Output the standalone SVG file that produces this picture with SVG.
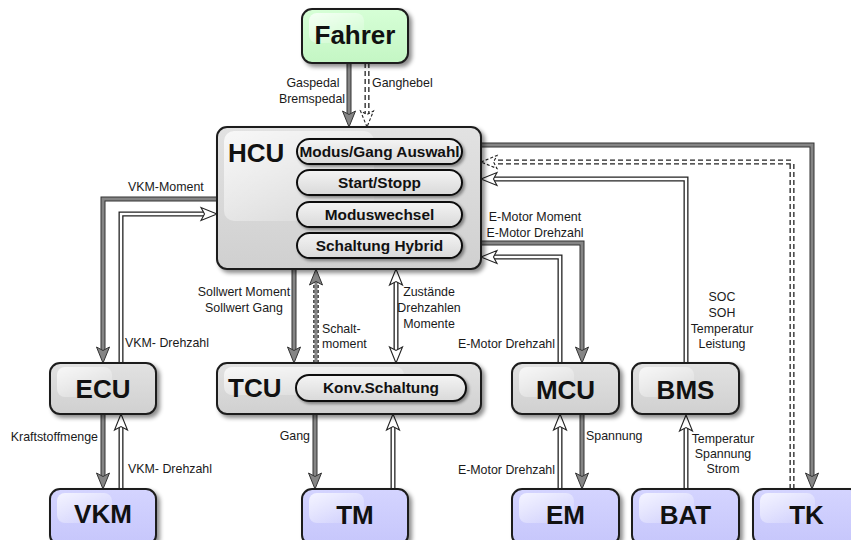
<svg xmlns="http://www.w3.org/2000/svg" xmlns:xlink="http://www.w3.org/1999/xlink" width="851" height="540" viewBox="0 0 851 540">
  <defs>
    <style>
      .lbl { font-family: "Liberation Sans", Arial, sans-serif; font-size: 12.4px; fill: #1a1a1a; }
      .big { font-family: "Liberation Sans", Arial, sans-serif; font-size: 26px; font-weight: bold; fill: #111; }
      .pt  { font-family: "Liberation Sans", Arial, sans-serif; font-size: 15.4px; font-weight: bold; fill: #111; text-anchor: middle; }
      .box { stroke: #1e1e1e; stroke-width: 2; filter: url(#shadow); }
      .pill { fill: url(#gPill); stroke: #111; stroke-width: 2; filter: url(#shadowS); }
      .grey { fill: url(#gGrey); }
      .blue { fill: url(#gBlue); }
      .green { fill: url(#gGreen); }
      .hl { fill: url(#gHl); }
      .g-o { fill: none; stroke: #333; stroke-width: 5; stroke-linejoin: miter; }
      .g-i { fill: none; stroke: #858585; stroke-width: 3; stroke-linejoin: miter; }
      .h-o { fill: none; stroke: #222; stroke-width: 5; stroke-linejoin: miter; }
      .h-i { fill: none; stroke: #fff; stroke-width: 2.4; stroke-linejoin: miter; }
      .hd-o { fill: none; stroke: #222; stroke-width: 5; stroke-dasharray: 5 3; }
      .gd-o { fill: none; stroke: #555; stroke-width: 6; stroke-dasharray: 3 2; }
    </style>
    <linearGradient id="gGrey" x1="0" y1="0" x2="0" y2="1">
      <stop offset="0" stop-color="#e2e2e2"/>
      <stop offset="1" stop-color="#d0d0d0"/>
    </linearGradient>
    <linearGradient id="gBlue" x1="0" y1="0" x2="0" y2="1">
      <stop offset="0" stop-color="#d4d4ff"/>
      <stop offset="1" stop-color="#c6c6fb"/>
    </linearGradient>
    <linearGradient id="gGreen" x1="0" y1="0" x2="0" y2="1">
      <stop offset="0" stop-color="#d6ffd6"/>
      <stop offset="1" stop-color="#c4f6c4"/>
    </linearGradient>
    <linearGradient id="gPill" x1="0" y1="0" x2="0" y2="1">
      <stop offset="0" stop-color="#f4f4f4"/>
      <stop offset="1" stop-color="#d9d9d9"/>
    </linearGradient>
    <linearGradient id="gHl" x1="0" y1="0" x2="1" y2="1">
      <stop offset="0" stop-color="#ffffff" stop-opacity="0.75"/>
      <stop offset="1" stop-color="#ffffff" stop-opacity="0"/>
    </linearGradient>
    <filter id="shadow" x="-10%" y="-10%" width="130%" height="130%">
      <feDropShadow dx="3" dy="3" stdDeviation="2" flood-color="#000" flood-opacity="0.45"/>
    </filter>
    <filter id="shadowS" x="-10%" y="-20%" width="130%" height="150%">
      <feDropShadow dx="2" dy="2" stdDeviation="1.5" flood-color="#000" flood-opacity="0.4"/>
    </filter>
    <!-- arrowheads, drawn pointing down with the tip at the origin -->
    <path id="hg" d="M0,0 L-6.5,-16 L0,-12.5 L6.5,-16 Z" fill="#858585" stroke="#333" stroke-width="1" stroke-linejoin="miter"/>
    <path id="hh" d="M0,0 L-6.5,-16 L0,-12.5 L6.5,-16 Z" fill="#fff" stroke="#222" stroke-width="1.1" stroke-linejoin="miter"/>
    <path id="hd" d="M0,0 L-6.5,-16 L0,-12.5 L6.5,-16 Z" fill="#fff" stroke="#222" stroke-width="1.1" stroke-dasharray="3 2"/>
  </defs>

  <rect width="851" height="540" fill="#fff"/>

  <!-- connectors -->
  <g id="connectors">
    <!-- Fahrer -> HCU -->
    <path class="g-o" d="M349,63 V115"/><path class="g-i" d="M349,63 V115"/>
    <use href="#hg" transform="translate(349,127)"/>
    <path class="hd-o" d="M367,63 V117"/><path class="h-i" d="M367,63 V117"/>
    <use href="#hd" transform="translate(367,127)"/>

    <!-- HCU <-> ECU -->
    <path class="g-o" d="M217,199 H103 V351"/><path class="g-i" d="M217,199 H103 V351"/>
    <use href="#hg" transform="translate(103,363)"/>
    <path class="h-o" d="M121,363 V214 H207"/><path class="h-i" d="M121,363 V214 H207"/>
    <use href="#hh" transform="translate(217,214) rotate(-90)"/>

    <!-- ECU <-> VKM -->
    <path class="g-o" d="M103,414 V477"/><path class="g-i" d="M103,414 V477"/>
    <use href="#hg" transform="translate(103,489)"/>
    <path class="h-o" d="M121,489 V424"/><path class="h-i" d="M121,489 V424"/>
    <use href="#hh" transform="translate(121,414) rotate(180)"/>

    <!-- HCU <-> TCU -->
    <path class="g-o" d="M294,269 V351"/><path class="g-i" d="M294,269 V351"/>
    <use href="#hg" transform="translate(294,363)"/>
    <path class="gd-o" d="M316,363 V281"/><path class="g-i" d="M316,363 V281"/>
    <use href="#hg" transform="translate(316,269) rotate(180)"/>
    <path class="h-o" d="M396,279 V353"/><path class="h-i" d="M396,279 V353"/>
    <use href="#hh" transform="translate(396,269) rotate(180)"/>
    <use href="#hh" transform="translate(396,363)"/>

    <!-- TCU <-> TM -->
    <path class="g-o" d="M315,414 V477"/><path class="g-i" d="M315,414 V477"/>
    <use href="#hg" transform="translate(315,489)"/>
    <path class="h-o" d="M393,489 V424"/><path class="h-i" d="M393,489 V424"/>
    <use href="#hh" transform="translate(393,414) rotate(180)"/>

    <!-- HCU <-> MCU -->
    <path class="g-o" d="M481,243 H582 V351"/><path class="g-i" d="M481,243 H582 V351"/>
    <use href="#hg" transform="translate(582,363)"/>
    <path class="h-o" d="M560,363 V257 H491"/><path class="h-i" d="M560,363 V257 H491"/>
    <use href="#hh" transform="translate(481,257) rotate(90)"/>

    <!-- MCU <-> EM -->
    <path class="g-o" d="M582,414 V477"/><path class="g-i" d="M582,414 V477"/>
    <use href="#hg" transform="translate(582,489)"/>
    <path class="h-o" d="M560,489 V424"/><path class="h-i" d="M560,489 V424"/>
    <use href="#hh" transform="translate(560,414) rotate(180)"/>

    <!-- BMS -> HCU, BAT -> BMS -->
    <path class="h-o" d="M686,363 V179 H491"/><path class="h-i" d="M686,363 V179 H491"/>
    <use href="#hh" transform="translate(481,179) rotate(90)"/>
    <path class="h-o" d="M686,489 V425"/><path class="h-i" d="M686,489 V425"/>
    <use href="#hh" transform="translate(686,415) rotate(180)"/>

    <!-- HCU <-> TK -->
    <path class="g-o" d="M481,145 H812 V477"/><path class="g-i" d="M481,145 H812 V477"/>
    <use href="#hg" transform="translate(812,489)"/>
    <path class="hd-o" d="M792,489 V162 H491"/><path class="h-i" d="M792,489 V162 H491"/>
    <use href="#hd" transform="translate(481,162) rotate(90)"/>
  </g>

  <!-- connector labels -->
  <g id="labels" class="lbl">
    <text x="313" y="87" text-anchor="middle">Gaspedal</text>
    <text x="312" y="103" text-anchor="middle">Bremspedal</text>
    <text x="372" y="87">Ganghebel</text>
    <text x="128" y="191">VKM-Moment</text>
    <text x="125" y="347">VKM- Drehzahl</text>
    <text x="98" y="441" text-anchor="end">Kraftstoffmenge</text>
    <text x="128" y="473">VKM- Drehzahl</text>
    <text x="244" y="296" text-anchor="middle">Sollwert Moment</text>
    <text x="244" y="312" text-anchor="middle">Sollwert Gang</text>
    <text x="322" y="333">Schalt-</text>
    <text x="322" y="348">moment</text>
    <text x="429" y="296" text-anchor="middle">Zustände</text>
    <text x="429" y="312" text-anchor="middle">Drehzahlen</text>
    <text x="429" y="328" text-anchor="middle">Momente</text>
    <text x="535" y="221" text-anchor="middle">E-Motor Moment</text>
    <text x="535" y="237" text-anchor="middle">E-Motor Drehzahl</text>
    <text x="555" y="348" text-anchor="end">E-Motor Drehzahl</text>
    <text x="310" y="440" text-anchor="end">Gang</text>
    <text x="586" y="440">Spannung</text>
    <text x="555" y="474" text-anchor="end">E-Motor Drehzahl</text>
    <text x="722" y="301" text-anchor="middle">SOC</text>
    <text x="722" y="317" text-anchor="middle">SOH</text>
    <text x="722" y="333" text-anchor="middle">Temperatur</text>
    <text x="722" y="348" text-anchor="middle">Leistung</text>
    <text x="723" y="443" text-anchor="middle">Temperatur</text>
    <text x="723" y="458" text-anchor="middle">Spannung</text>
    <text x="723" y="473" text-anchor="middle">Strom</text>
  </g>

  <!-- nodes -->
  <g id="fahrer">
    <rect class="box green" x="302" y="9" width="106" height="54" rx="10"/>
    <rect class="hl" x="309" y="13" width="55" height="30" rx="8"/>
    <text class="big" x="355" y="44" text-anchor="middle">Fahrer</text>
  </g>

  <g id="hcu">
    <rect class="box grey" x="217" y="127" width="264" height="142" rx="10"/>
    <rect class="hl" x="224" y="131" width="150" height="90" rx="10"/>
    <text class="big" x="228" y="162">HCU</text>
    <g id="hcu-modus">
      <rect class="pill" x="297" y="139" width="165" height="25" rx="12.5"/>
      <text class="pt" x="379.5" y="157">Modus/Gang Auswahl</text>
    </g>
    <g id="hcu-start">
      <rect class="pill" x="297" y="170" width="165" height="25" rx="12.5"/>
      <text class="pt" x="379.5" y="188">Start/Stopp</text>
    </g>
    <g id="hcu-moduswechsel">
      <rect class="pill" x="297" y="202" width="165" height="25" rx="12.5"/>
      <text class="pt" x="379.5" y="220">Moduswechsel</text>
    </g>
    <g id="hcu-schaltung">
      <rect class="pill" x="297" y="233" width="165" height="25" rx="12.5"/>
      <text class="pt" x="379.5" y="251">Schaltung Hybrid</text>
    </g>
  </g>

  <g id="ecu">
    <rect class="box grey" x="50" y="363" width="106" height="51" rx="10"/>
    <rect class="hl" x="57" y="367" width="55" height="30" rx="8"/>
    <text class="big" x="103" y="398" text-anchor="middle">ECU</text>
  </g>

  <g id="tcu">
    <rect class="box grey" x="217" y="363" width="264" height="51" rx="10"/>
    <rect class="hl" x="224" y="367" width="180" height="28" rx="8"/>
    <text class="big" x="228" y="397">TCU</text>
    <g id="tcu-konv">
      <rect class="pill" x="296" y="375" width="170" height="26" rx="13"/>
      <text class="pt" x="381" y="393">Konv.Schaltung</text>
    </g>
  </g>

  <g id="mcu">
    <rect class="box grey" x="512" y="363" width="107" height="51" rx="10"/>
    <rect class="hl" x="519" y="367" width="55" height="30" rx="8"/>
    <text class="big" x="565.5" y="399" text-anchor="middle">MCU</text>
  </g>

  <g id="bms">
    <rect class="box grey" x="632" y="363" width="107" height="51" rx="10"/>
    <rect class="hl" x="639" y="367" width="55" height="30" rx="8"/>
    <text class="big" x="685.5" y="399" text-anchor="middle">BMS</text>
  </g>

  <g id="vkm">
    <rect class="box blue" x="50" y="489" width="106" height="56" rx="10"/>
    <rect class="hl" x="57" y="493" width="55" height="30" rx="8"/>
    <text class="big" x="103" y="523" text-anchor="middle">VKM</text>
  </g>

  <g id="tm">
    <rect class="box blue" x="302" y="489" width="106" height="56" rx="10"/>
    <rect class="hl" x="309" y="493" width="55" height="30" rx="8"/>
    <text class="big" x="355" y="524" text-anchor="middle">TM</text>
  </g>

  <g id="em">
    <rect class="box blue" x="512" y="489" width="107" height="56" rx="10"/>
    <rect class="hl" x="519" y="493" width="55" height="30" rx="8"/>
    <text class="big" x="565.5" y="524" text-anchor="middle">EM</text>
  </g>

  <g id="bat">
    <rect class="box blue" x="632" y="489" width="107" height="56" rx="10"/>
    <rect class="hl" x="639" y="493" width="55" height="30" rx="8"/>
    <text class="big" x="685.5" y="524" text-anchor="middle">BAT</text>
  </g>

  <g id="tk">
    <rect class="box blue" x="753" y="489" width="107" height="56" rx="10"/>
    <rect class="hl" x="760" y="493" width="55" height="30" rx="8"/>
    <text class="big" x="806.5" y="524" text-anchor="middle">TK</text>
  </g>
</svg>
